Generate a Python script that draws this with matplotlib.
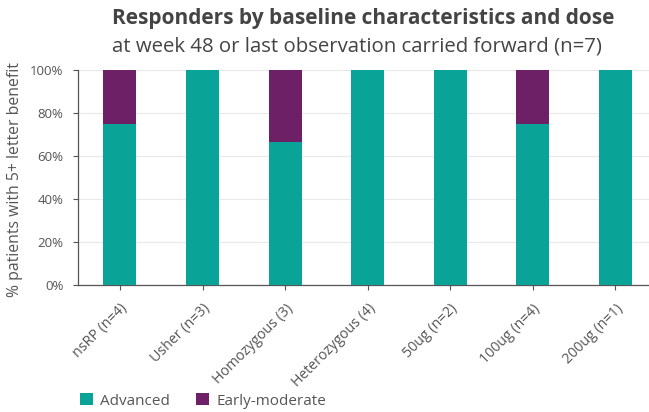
import matplotlib
matplotlib.use('Agg')
import matplotlib.pyplot as plt
from matplotlib.patches import Patch
from matplotlib.ticker import PercentFormatter

groups = ['nsRP (n=4)', 'Usher (n=3)', 'Homozygous (3)', 'Heterozygous (4)',
          '50ug (n=2)', '100ug (n=4)', '200ug (n=1)']
advanced = [75, 100, 66.7, 100, 100, 75, 100]
early_moderate = [25, 0, 33.3, 0, 0, 25, 0]

teal = '#0aa398'
purple = '#6d2065'
grey = '#555555'

plt.rcParams['font.family'] = ['Open Sans', 'DejaVu Sans']

fig = plt.figure(figsize=(6.49, 4.12), dpi=100)
ax = fig.add_axes([0.120, 0.308, 0.88, 0.522])

x = range(len(groups))
ax.bar(x, advanced, width=0.4, color=teal, zorder=3)
ax.bar(x, early_moderate, width=0.4, bottom=advanced, color=purple, zorder=3)

ax.set_xlim(-0.51, 6.41)
ax.set_ylim(0, 100)
ax.set_yticks([0, 20, 40, 60, 80, 100])
ax.yaxis.set_major_formatter(PercentFormatter(decimals=0))
ax.grid(axis='y', color='#e8e8e8', linewidth=0.8, zorder=0)

ax.set_xticks(list(x))
ax.set_xticklabels(groups, rotation=45, ha='right', rotation_mode='anchor')
ax.tick_params(axis='both', colors=grey, length=3.5, width=0.8)
ax.tick_params(axis='x', labelsize=10.2, pad=8)
ax.tick_params(axis='y', labelsize=9.5, pad=7)

for side in ['top', 'right']:
    ax.spines[side].set_visible(False)
for side in ['left', 'bottom']:
    ax.spines[side].set_color(grey)
    ax.spines[side].set_linewidth(0.9)

ax.set_ylabel('% patients with 5+ letter benefit', color=grey, fontsize=11.3, va='center')
ax.yaxis.set_label_coords(-0.110, 0.49)

fig.text(0.1726, 0.954, 'Responders by baseline characteristics and dose',
         fontsize=15, fontweight='bold', color='#444444', va='center', ha='left')
fig.text(0.1726, 0.886, 'at week 48 or last observation carried forward (n=7)',
         fontsize=14.7, color='#444444', va='center', ha='left')

handles = [Patch(facecolor=teal, label='Advanced'),
           Patch(facecolor=purple, label='Early-moderate')]
fig.legend(handles=handles, loc='center left', bbox_to_anchor=(0.123, 0.027),
           ncol=2, frameon=False, fontsize=11, handlelength=0.85, handleheight=0.85,
           handletextpad=0.45, columnspacing=1.75, borderpad=0, borderaxespad=0,
           labelcolor=grey)

fig.savefig('out.png', dpi=100)
